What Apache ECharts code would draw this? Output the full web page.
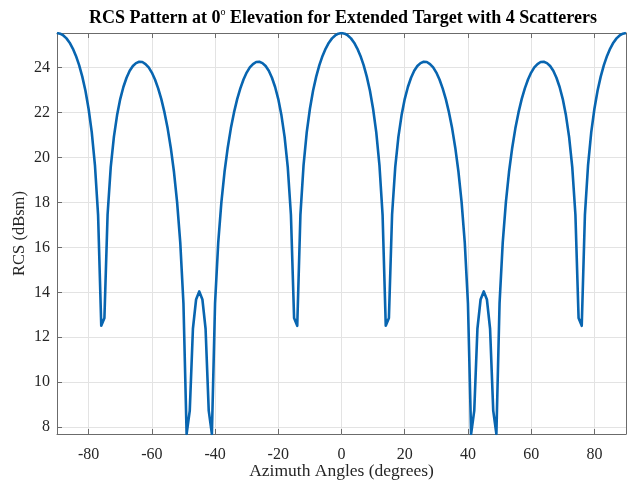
<!DOCTYPE html>
<html>
<head>
<meta charset="utf-8">
<script src="https://cdn.jsdelivr.net/npm/echarts@6/dist/echarts.min.js"></script>
<style>
html,body{margin:0;padding:0;background:#fff;}
#chart{width:627px;height:485px;}
</style>
</head>
<body>
<div id="chart"></div>
<script>
// Azimuth angles (degrees)
const azimuth = [
-90,-89,-88,-87,-86,-85,-84,-83,-82,-81,-80,-79,-78,-77,-76,-75,-74,-73,-72,-71,
-70,-69,-68,-67,-66,-65,-64,-63,-62,-61,-60,-59,-58,-57,-56,-55,-54,-53,-52,-51,
-50,-49,-48,-47,-46,-45,-44,-43,-42,-41,-40,-39,-38,-37,-36,-35,-34,-33,-32,-31,
-30,-29,-28,-27,-26,-25,-24,-23,-22,-21,-20,-19,-18,-17,-16,-15,-14,-13,-12,-11,
-10,-9,-8,-7,-6,-5,-4,-3,-2,-1,0,1,2,3,4,5,6,7,8,9,
10,11,12,13,14,15,16,17,18,19,20,21,22,23,24,25,26,27,28,29,
30,31,32,33,34,35,36,37,38,39,40,41,42,43,44,45,46,47,48,49,
50,51,52,53,54,55,56,57,58,59,60,61,62,63,64,65,66,67,68,69,
70,71,72,73,74,75,76,77,78,79,80,81,82,83,84,85,86,87,88,89,90
];
// RCS (dBsm)
const rcs = [
25.53,25.50,25.42,25.29,25.10,24.84,24.51,24.10,23.59,22.96,22.15,21.11,19.66,17.43,12.51,12.86,17.45,19.57,20.91,21.87,
22.59,23.13,23.54,23.85,24.06,24.19,24.25,24.24,24.15,24.00,23.77,23.46,23.07,22.59,22.00,21.29,20.42,19.36,18.00,16.20,
13.51,7.70,8.74,12.38,13.68,14.04,13.68,12.38,8.74,7.70,13.51,16.20,18.00,19.36,20.42,21.29,22.00,22.59,23.07,23.46,
23.77,24.00,24.15,24.24,24.25,24.19,24.06,23.85,23.54,23.13,22.59,21.87,20.91,19.57,17.45,12.86,12.51,17.43,19.66,21.11,
22.15,22.96,23.59,24.10,24.51,24.84,25.10,25.29,25.42,25.50,25.53,25.50,25.42,25.29,25.10,24.84,24.51,24.10,23.59,22.96,
22.15,21.11,19.66,17.43,12.51,12.86,17.45,19.57,20.91,21.87,22.59,23.13,23.54,23.85,24.06,24.19,24.25,24.24,24.15,24.00,
23.77,23.46,23.07,22.59,22.00,21.29,20.42,19.36,18.00,16.20,13.51,7.70,8.74,12.38,13.68,14.04,13.68,12.38,8.74,7.70,
13.51,16.20,18.00,19.36,20.42,21.29,22.00,22.59,23.07,23.46,23.77,24.00,24.15,24.24,24.25,24.19,24.06,23.85,23.54,23.13,
22.59,21.87,20.91,19.57,17.45,12.86,12.51,17.43,19.66,21.11,22.15,22.96,23.59,24.10,24.51,24.84,25.10,25.29,25.42,25.50,25.53
];
const titleMain = 'RCS Pattern at 0';
const titleSup = 'o';
const titleRest = ' Elevation for Extended Target with 4 Scatterers';
const xName = 'Azimuth Angles (degrees)';
const yName = 'RCS (dBsm)';

const font = '"Liberation Serif", "Times New Roman", serif';
const axisColor = '#6b6b6b';
const textColor = '#262626';
const gridColor = '#e3e3e3';

const chart = echarts.init(document.getElementById('chart'), null, {renderer: 'canvas'});
const data = azimuth.map((a, i) => [a, rcs[i]]);

function xAxisCfg(pos, showLabel) {
  return {
    type: 'value', position: pos, min: -90, max: 90, splitNumber: 9,
    name: showLabel ? xName : '', nameLocation: 'middle', nameGap: 28, nameMoveOverlap: false,
    nameTextStyle: {fontFamily: font, fontSize: 17.5, color: textColor},
    axisLine: {show: true, onZero: false, lineStyle: {color: axisColor, width: 1}},
    axisTick: {show: true, inside: true, length: 5, lineStyle: {color: axisColor}},
    axisLabel: {show: showLabel, showMinLabel: false, showMaxLabel: false, margin: 13,
      fontFamily: font, fontSize: 16, color: textColor},
    splitLine: {show: showLabel, lineStyle: {color: gridColor, width: 1}}
  };
}
function yAxisCfg(pos, showLabel) {
  return {
    type: 'value', position: pos, min: 'dataMin', max: 'dataMax', splitNumber: 9,
    name: showLabel ? yName : '', nameLocation: 'middle', nameGap: 29, nameRotate: 90, nameMoveOverlap: false,
    nameTextStyle: {fontFamily: font, fontSize: 16.5, color: textColor},
    axisLine: {show: true, onZero: false, lineStyle: {color: axisColor, width: 1}},
    axisTick: {show: true, inside: true, length: 5, lineStyle: {color: axisColor}},
    axisLabel: {show: showLabel, showMinLabel: false, showMaxLabel: false, margin: 7,
      fontFamily: font, fontSize: 16, color: textColor},
    splitLine: {show: showLabel, lineStyle: {color: gridColor, width: 1}}
  };
}

chart.setOption({
  animation: false,
  backgroundColor: '#ffffff',
  title: {
    text: '{a|' + titleMain + '}{s|' + titleSup + '}{a|' + titleRest + '}',
    left: 338, textAlign: 'center', top: 2,
    textStyle: {
      rich: {
        a: {fontFamily: font, fontSize: 18, fontWeight: 'bold', color: '#000', lineHeight: 20, verticalAlign: 'bottom'},
        s: {fontFamily: font, fontSize: 10, fontWeight: 'normal', color: '#000', lineHeight: 20, verticalAlign: 'top'}
      }
    }
  },
  grid: {left: 57, right: 1, top: 33, bottom: 51, containLabel: false, outerBoundsMode: 'none'},
  xAxis: [xAxisCfg('bottom', true), xAxisCfg('top', false)],
  yAxis: [yAxisCfg('left', true), yAxisCfg('right', false)],
  series: [{
    type: 'line', data: data, xAxisIndex: 0, yAxisIndex: 0,
    showSymbol: false, symbol: 'none',
    lineStyle: {color: '#0865b0', width: 2.6, join: 'round'},
    clip: true
  }]
});
</script>
</body>
</html>
